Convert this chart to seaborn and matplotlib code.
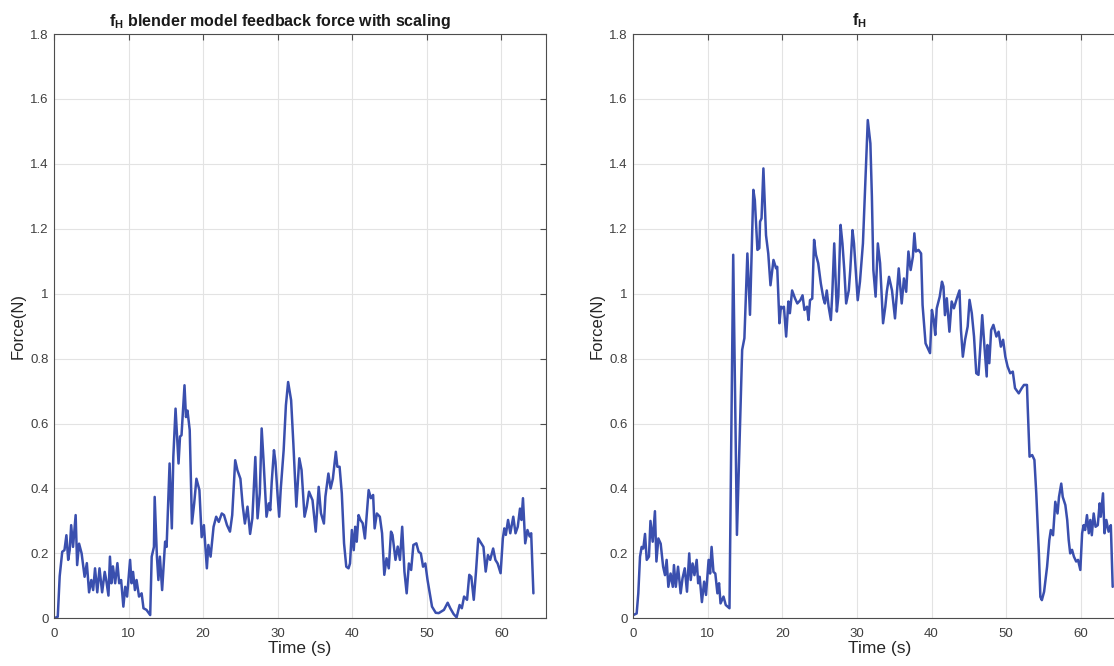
import matplotlib
matplotlib.use("Agg")
import matplotlib.pyplot as plt
import seaborn as sns
import pandas as pd
from matplotlib.ticker import FuncFormatter, FixedLocator

# ---------------- data ----------------
scaled_t = [0, 0.5, 0.76, 1.1, 1.4, 1.66, 1.9, 2.1, 2.3, 2.55, 2.9, 3.1, 3.36, 3.7, 4.1, 4.4, 4.7,
            5.0, 5.25, 5.5, 5.8, 6.1, 6.45, 6.8, 7.0, 7.3, 7.5, 7.7, 7.9, 8.2, 8.5, 8.74, 9.0, 9.3,
            9.55, 9.8, 10.2, 10.4, 10.6, 10.85, 11.07, 11.4, 11.75, 12.0, 12.4, 12.9, 13.1, 13.4,
            13.5, 13.8, 14.0, 14.2, 14.5, 14.9, 15.1, 15.5, 15.8, 16.0, 16.3, 16.7, 16.9, 17.1,
            17.5, 17.7, 17.9, 18.2, 18.5, 18.8, 19.1, 19.5, 19.8, 20.1, 20.5, 20.7, 21.0, 21.4,
            21.75, 22.1, 22.5, 22.8, 23.2, 23.6, 23.9, 24.3, 24.6, 25.0, 25.3, 25.6, 25.95, 26.3,
            26.6, 27.0, 27.3, 27.6, 27.85, 28.1, 28.5, 28.8, 29.0, 29.2, 29.5, 29.7, 30.0, 30.2,
            30.4, 30.8, 31.1, 31.4, 31.8, 32.1, 32.5, 32.9, 33.2, 33.6, 33.9, 34.2, 34.67, 35.1,
            35.5, 35.8, 36.2, 36.4, 36.8, 37.1, 37.4, 37.8, 38.0, 38.3, 38.6, 38.9, 39.2, 39.5,
            39.7, 39.95, 40.2, 40.4, 40.6, 40.85, 41.1, 41.4, 41.7, 42.2, 42.5, 42.8, 43.0, 43.3,
            43.7, 44.0, 44.3, 44.6, 44.9, 45.2, 45.4, 45.8, 46.1, 46.4, 46.7, 47.0, 47.3, 47.6,
            47.9, 48.2, 48.6, 48.9, 49.2, 49.5, 49.8, 50.1, 50.4, 50.7, 51.2, 51.6, 52.3, 52.8,
            53.15, 53.6, 54.0, 54.4, 54.7, 55.0, 55.4, 55.7, 55.97, 56.3, 56.6, 56.9, 57.3, 57.6,
            57.9, 58.2, 58.5, 58.9, 59.2, 59.5, 59.9, 60.2, 60.4, 60.6, 60.9, 61.2, 61.6, 61.9,
            62.2, 62.5, 62.7, 62.9, 63.2, 63.5, 63.8, 64.0, 64.3]
scaled_f = [0, 0.005, 0.13, 0.205, 0.21, 0.256, 0.18, 0.21, 0.287, 0.22, 0.318, 0.164, 0.23, 0.2,
            0.128, 0.17, 0.08, 0.118, 0.087, 0.154, 0.08, 0.154, 0.08, 0.143, 0.118, 0.07, 0.19,
            0.108, 0.16, 0.108, 0.17, 0.108, 0.118, 0.036, 0.097, 0.067, 0.18, 0.108, 0.143, 0.087,
            0.118, 0.067, 0.077, 0.031, 0.026, 0.01, 0.19, 0.22, 0.374, 0.19, 0.118, 0.19, 0.087,
            0.236, 0.22, 0.477, 0.277, 0.497, 0.646, 0.477, 0.56, 0.564, 0.718, 0.62, 0.64, 0.58,
            0.292, 0.354, 0.43, 0.395, 0.25, 0.287, 0.154, 0.226, 0.19, 0.282, 0.313, 0.297, 0.323,
            0.318, 0.287, 0.267, 0.318, 0.487, 0.456, 0.43, 0.349, 0.292, 0.344, 0.26, 0.308, 0.497,
            0.308, 0.385, 0.585, 0.487, 0.313, 0.354, 0.333, 0.42, 0.518, 0.482, 0.374, 0.313, 0.395,
            0.518, 0.656, 0.728, 0.672, 0.539, 0.344, 0.493, 0.457, 0.313, 0.344, 0.39, 0.364, 0.267,
            0.405, 0.324, 0.292, 0.375, 0.446, 0.4, 0.43, 0.513, 0.467, 0.467, 0.385, 0.231, 0.159,
            0.154, 0.169, 0.272, 0.21, 0.282, 0.236, 0.318, 0.303, 0.293, 0.246, 0.395, 0.37, 0.38,
            0.277, 0.323, 0.313, 0.262, 0.134, 0.185, 0.154, 0.267, 0.257, 0.18, 0.221, 0.18, 0.282,
            0.144, 0.077, 0.169, 0.149, 0.226, 0.231, 0.205, 0.2, 0.159, 0.169, 0.118, 0.077, 0.036,
            0.017, 0.016, 0.026, 0.048, 0.031, 0.013, 0.003, 0.041, 0.031, 0.067, 0.057, 0.134,
            0.128, 0.057, 0.144, 0.246, 0.231, 0.22, 0.144, 0.195, 0.18, 0.215, 0.18, 0.169, 0.139,
            0.246, 0.277, 0.257, 0.303, 0.262, 0.313, 0.262, 0.282, 0.338, 0.303, 0.37, 0.231, 0.272,
            0.252, 0.262, 0.077]

raw_t = [0, 0.45, 0.67, 0.9, 1.12, 1.34, 1.57, 1.8, 2.1, 2.3, 2.6, 2.9, 3.1, 3.36, 3.67, 4.0, 4.25,
         4.47, 4.7, 5.0, 5.3, 5.45, 5.7, 6.0, 6.35, 6.6, 6.9, 7.2, 7.5, 7.7, 7.95, 8.2, 8.5, 8.7,
         8.9, 9.2, 9.5, 9.75, 10.1, 10.3, 10.5, 10.75, 11.0, 11.28, 11.5, 11.7, 12.1, 12.4, 12.9,
         13.4, 13.9, 14.6, 14.9, 15.3, 15.65, 16.1, 16.3, 16.65, 16.9, 17.0, 17.2, 17.45, 17.8,
         18.1, 18.4, 18.8, 19.15, 19.3, 19.6, 19.8, 20.05, 20.2, 20.5, 20.8, 21.0, 21.3, 21.7,
         22.0, 22.4, 22.7, 22.95, 23.3, 23.5, 23.7, 24.0, 24.25, 24.5, 24.8, 25.15, 25.5, 25.7,
         25.95, 26.2, 26.5, 26.7, 26.95, 27.3, 27.5, 27.8, 28.05, 28.3, 28.55, 28.9, 29.1, 29.4,
         29.6, 29.9, 30.1, 30.4, 30.8, 31.15, 31.45, 31.8, 32.0, 32.2, 32.5, 32.8, 33.1, 33.5,
         33.8, 34.0, 34.3, 34.7, 35.1, 35.6, 36.0, 36.3, 36.6, 36.9, 37.2, 37.5, 37.7, 37.9,
         38.25, 38.6, 38.8, 39.2, 39.5, 39.8, 40.05, 40.3, 40.5, 40.7, 41.1, 41.4, 41.6, 41.8,
         42.05, 42.4, 42.7, 43.0, 43.4, 43.75, 43.95, 44.2, 44.5, 44.85, 45.1, 45.4, 45.7, 46.0,
         46.3, 46.55, 46.8, 47.1, 47.4, 47.5, 47.75, 48.0, 48.3, 48.7, 49.0, 49.3, 49.6, 49.9,
         50.2, 50.55, 50.9, 51.2, 51.7, 52.1, 52.4, 52.8, 52.9, 53.15, 53.5, 53.8, 54.05, 54.4,
         54.6, 54.8, 55.1, 55.5, 55.8, 56.0, 56.3, 56.6, 56.9, 57.1, 57.4, 57.6, 57.95, 58.2,
         58.4, 58.6, 58.85, 59.1, 59.4, 59.65, 59.96, 60.2, 60.4, 60.6, 60.85, 61.1, 61.3, 61.5,
         61.75, 62.0, 62.3, 62.55, 62.7, 63.0, 63.2, 63.45, 63.75, 64.05, 64.3]
raw_f = [0.01, 0.015, 0.077, 0.19, 0.22, 0.215, 0.26, 0.18, 0.19, 0.3, 0.236, 0.33, 0.175, 0.246,
         0.23, 0.159, 0.133, 0.18, 0.097, 0.138, 0.097, 0.164, 0.097, 0.159, 0.077, 0.123, 0.154,
         0.082, 0.2, 0.118, 0.169, 0.133, 0.18, 0.108, 0.128, 0.05, 0.113, 0.072, 0.18, 0.138,
         0.22, 0.143, 0.138, 0.077, 0.108, 0.046, 0.067, 0.041, 0.031, 1.12, 0.257, 0.827, 0.863,
         1.124, 0.935, 1.32, 1.288, 1.135, 1.14, 1.222, 1.232, 1.386, 1.18, 1.124, 1.026, 1.104,
         1.078, 1.083, 0.909, 0.96, 0.955, 0.96, 0.868, 0.976, 0.94, 1.01, 0.985, 0.97, 0.98,
         0.995, 0.95, 0.96, 0.919, 0.98, 0.985, 1.166, 1.12, 1.094, 1.032, 0.985, 0.97, 1.01,
         0.96, 0.919, 1.006, 1.155, 0.945, 0.991, 1.212, 1.155, 1.073, 0.97, 1.01, 1.073, 1.196,
         1.155, 1.052, 0.98, 1.037, 1.155, 1.36, 1.535, 1.463, 1.3, 1.073, 0.991, 1.155, 1.094,
         0.909, 0.96, 1.006, 1.052, 1.01, 0.924, 1.078, 0.97, 1.047, 1.006, 1.13, 1.073, 1.114,
         1.186, 1.13, 1.135, 1.124, 0.965, 0.847, 0.832, 0.817, 0.95, 0.919, 0.873, 0.955, 0.991,
         1.037, 1.022, 0.934, 0.986, 0.883, 0.976, 0.955, 0.986, 1.01, 0.888, 0.806, 0.858, 0.899,
         0.981, 0.94, 0.868, 0.755, 0.75, 0.837, 0.934, 0.837, 0.745, 0.842, 0.786, 0.888, 0.904,
         0.868, 0.883, 0.837, 0.858, 0.806, 0.776, 0.755, 0.76, 0.709, 0.693, 0.709, 0.719, 0.719,
         0.652, 0.498, 0.503, 0.488, 0.385, 0.2, 0.066, 0.056, 0.082, 0.159, 0.241, 0.272, 0.256,
         0.359, 0.323, 0.374, 0.415, 0.374, 0.349, 0.303, 0.241, 0.2, 0.211, 0.19, 0.175, 0.18,
         0.149, 0.262, 0.287, 0.272, 0.318, 0.262, 0.303, 0.256, 0.323, 0.282, 0.287, 0.354,
         0.313, 0.385, 0.262, 0.303, 0.267, 0.287, 0.097]

titles = [r"$\mathbf{f_H}$ blender model feedback force with scaling", r"$\mathbf{f_H}$"]
x_ticks = [0, 10, 20, 30, 40, 50, 60]
y_ticks = [0, 0.2, 0.4, 0.6, 0.8, 1.0, 1.2, 1.4, 1.6, 1.8]
x_label = "Time (s)"
y_label = "Force(N)"

# ---------------- style ----------------
sns.set_theme(style="white")
plt.rcParams["font.family"] = ["Liberation Sans", "DejaVu Sans"]
plt.rcParams["mathtext.fontset"] = "custom"
plt.rcParams["mathtext.rm"] = "Liberation Sans"
plt.rcParams["mathtext.bf"] = "Liberation Sans:bold"
plt.rcParams["mathtext.it"] = "Liberation Sans:italic"

line_color = "#3a4fae"
axis_color = "#4d4d4d"

fig = plt.figure(figsize=(11.14, 6.66), dpi=100)
ax1 = fig.add_axes([0.0485, 0.0716, 0.4417, 0.8773])
ax2 = fig.add_axes([0.5685, 0.0716, 0.4417, 0.8773])

df1 = pd.DataFrame({"t": scaled_t, "f": scaled_f})
df2 = pd.DataFrame({"t": raw_t, "f": raw_f})

for ax, df, title in [(ax1, df1, titles[0]), (ax2, df2, titles[1])]:
    sns.lineplot(data=df, x="t", y="f", ax=ax, color=line_color, linewidth=1.8,
                 estimator=None, sort=False)
    ax.set_xlim(0, 66)
    ax.set_ylim(0, 1.8)
    ax.xaxis.set_major_locator(FixedLocator(x_ticks))
    ax.yaxis.set_major_locator(FixedLocator(y_ticks))
    ax.yaxis.set_major_formatter(FuncFormatter(lambda v, p: "%g" % round(v, 2)))
    ax.grid(True, color="#e3e3e3", linewidth=0.8)
    ax.set_axisbelow(True)
    for s in ax.spines.values():
        s.set_visible(True)
        s.set_color(axis_color)
        s.set_linewidth(0.8)
    ax.tick_params(axis="both", which="major", direction="in", length=4, width=0.8,
                   top=True, right=True, colors=axis_color, labelsize=9.5,
                   labelcolor="#404040")
    ax.tick_params(axis="x", pad=7)
    ax.tick_params(axis="y", pad=4)
    ax.set_xlabel(x_label, fontsize=12.5, color="#262626", labelpad=1)
    ax.set_ylabel(y_label, fontsize=12, color="#262626", labelpad=3)
    ax.set_title(title, fontsize=11.5, fontweight="bold", color="#1a1a1a", pad=6, x=0.46)

fig.savefig("out.png", dpi=100)
